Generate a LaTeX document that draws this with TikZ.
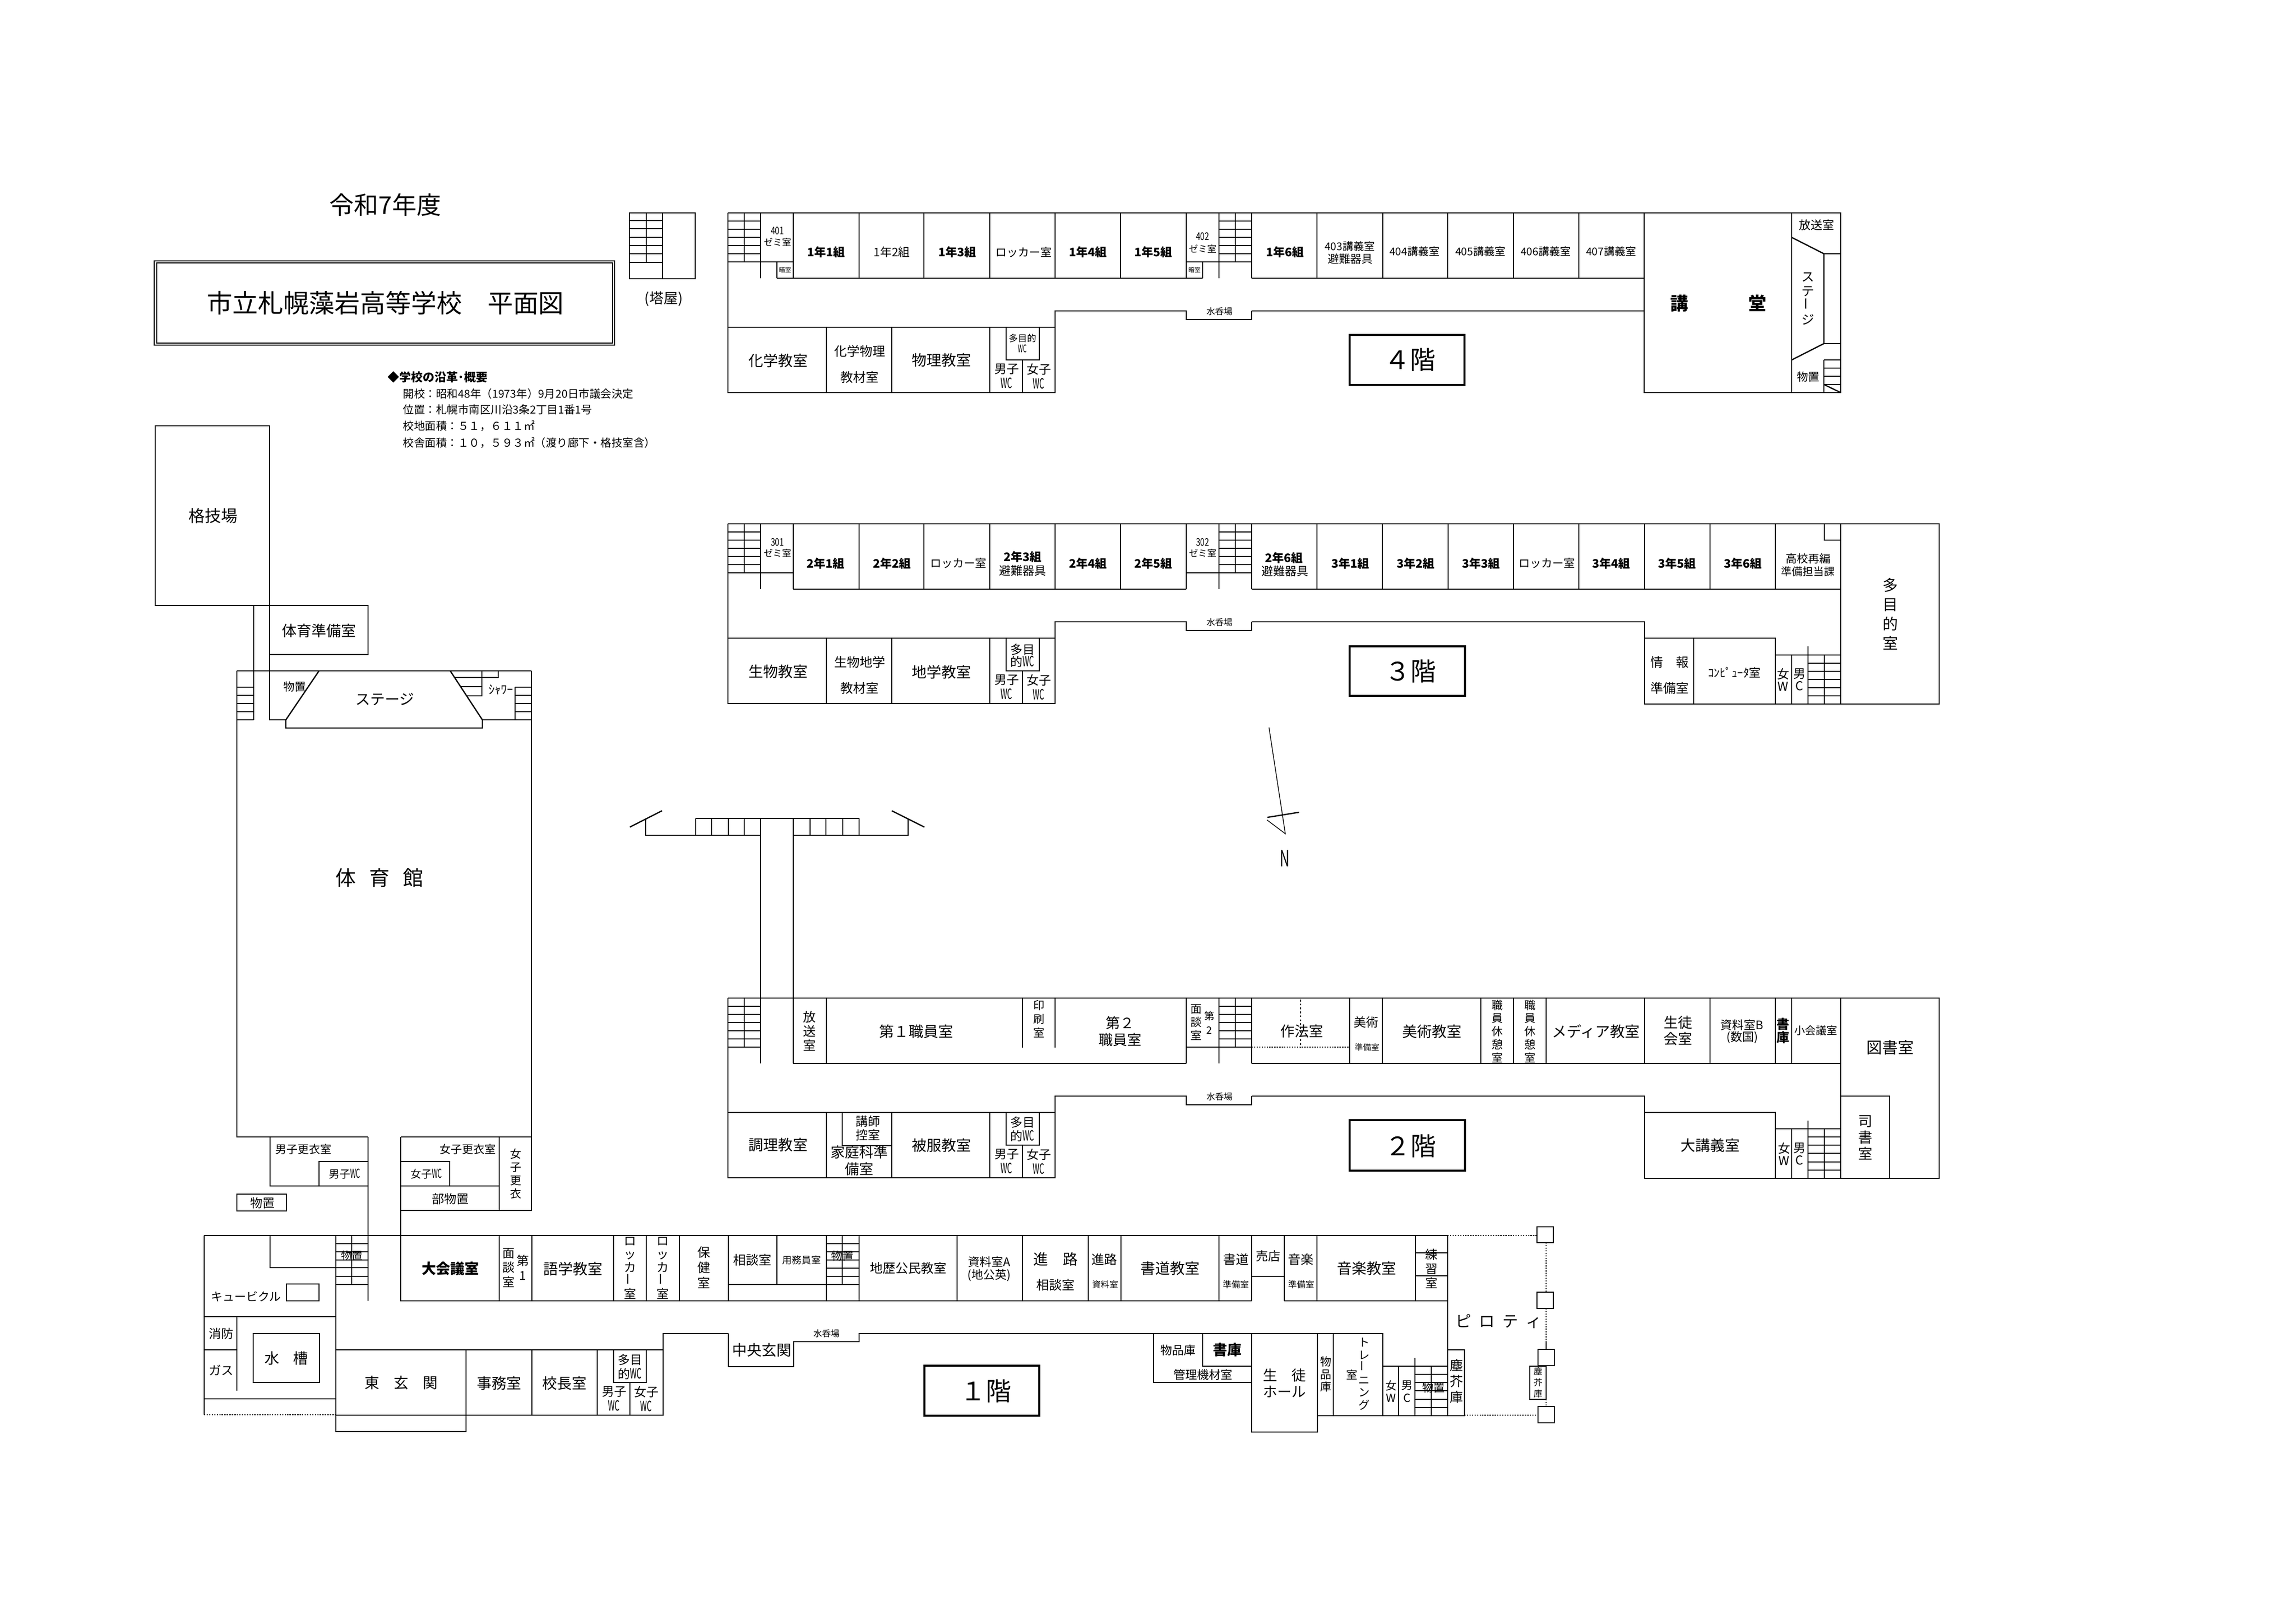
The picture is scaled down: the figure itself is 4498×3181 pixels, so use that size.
\documentclass[tikz,border=0pt]{standalone}
\usepackage{fontspec}
\setmainfont{Noto Sans CJK JP}
\newlength{\pxu}
\setlength{\pxu}{0.01cm}
\newcommand{\fs}[2]{\fontsize{\dimexpr#1\pxu\relax}{\dimexpr#2\pxu\relax}\selectfont}
\newcommand{\gapx}[1]{\hspace{#1\pxu}}
\newcommand{\wc}{\scalebox{.62}[1.15]{WC}}
\newcommand{\tallnum}[1]{\scalebox{.85}[1.15]{#1}}
\newcommand{\vbar}{\rotatebox{90}{ー}}
\newcommand{\treads}[3]{\foreach \y in {#3} \draw[wall] (#1,\y) -- (#2,\y);}
\tikzset{
  wall/.style={line width=0.7pt},
  thinwall/.style={line width=0.4pt},
  floorbox/.style={line width=1.1pt},
  dotwall/.style={line width=0.8pt,dash pattern=on 0.7pt off 0.7pt},
  dotthin/.style={line width=0.5pt,dash pattern=on 1pt off 1.2pt},
  lb/.style={font=\fs{#1}{#1},inner sep=0pt,align=center},
  lbb/.style={font=\fs{#1}{#1}\bfseries,inner sep=0pt,align=center},
  lbv/.style 2 args={font=\fs{#1}{#2},inner sep=0pt,align=center}
}

\begin{document}
\begin{tikzpicture}[x=0.01cm,y=-0.01cm]
\useasboundingbox (0,0) rectangle (4498,3181);

% title and school notes
\node[lb=48] (year) at (755,401) {令和7年度};
\draw[wall] (302,511) rectangle (1204,676);
\draw[wall] (307,515) rectangle (1200,672);
\node[lb=50] (title) at (755,593) {市立札幌藻岩高等学校　平面図};
\node[lbb=23,anchor=west] (noteh) at (759,739) {◆学校の沿革･概要};
\node[lb=21.5,anchor=west] (note1) at (789,771) {開校：昭和48年（1973年）9月20日市議会決定};
\node[lb=21.5,anchor=west] (note2) at (789,802) {位置：札幌市南区川沿3条2丁目1番1号};
\node[lb=21.5,anchor=west] (note3) at (789,834) {校地面積：５１，６１１㎡};
\node[lb=21.5,anchor=west] (note4) at (789,867) {校舎面積：１０，５９３㎡（渡り廊下・格技室含）};

% roof stairs
\draw[wall] (1233,417) rectangle (1362,546);
\draw[wall] (1298,417) -- (1298,546);
\draw[wall] (1266,417) -- (1266,514);
\treads{1233}{1298}{432,448,465,481,497,514}
\node[lb=28] (tower) at (1300,586) {(塔屋)};

% parts shared by the 4th, 3rd and 2nd floor wings
\foreach \fl/\dy in {4/0,3/609,2/1538}{
\begin{scope}[shift={(0,\dy)}]
\draw[wall] (1426,417) -- (1426,769) -- (2067,769) -- (2067,609) -- (2324,609) -- (2324,626) -- (2452,626) -- (2452,609);
\draw[wall] (1426,641) -- (2067,641);
\foreach \x in {1458,2420} \draw[wall] (\x,417) -- (\x,513);
\foreach \x in {1490,2388,2452} \draw[wall] (\x,417) -- (\x,545);
\treads{1426}{1490}{433,449,465,481,497,513}
\treads{2388}{2452}{433,449,465,481,497,513}
\draw[wall] (2324,513) -- (2388,513);
\foreach \x in {1619,1747,1939} \draw[wall] (\x,641) -- (\x,769);
\draw[wall] (1971,641) -- (1971,705) -- (2036,705) -- (2036,641);
\draw[wall] (2003,705) -- (2003,769);
\node[lb=17] (sink\fl) at (2389,610) {水呑場};
\node[lbv={24}{29}] (mwc\fl) at (1972,737) {男子\\\wc};
\node[lbv={24}{29}] (fwc\fl) at (2035,737) {女子\\\wc};
\end{scope}
}

% 4th floor
\draw[wall] (1426,417) -- (3606,417) -- (3606,769) -- (3221,769) -- (3221,417);
\draw[wall] (1522,545) -- (2356,545);
\draw[wall] (2452,545) -- (3221,545);
\draw[wall] (2452,609) -- (3221,609);
\foreach \x in {1554,1683,1810,1939,2067,2195,2324,2580,2709,2836,2965,3093} \draw[wall] (\x,417) -- (\x,545);
\draw[wall] (1490,513) -- (1554,513);
\draw[wall] (1522,513) -- (1522,545);
\draw[wall] (2356,513) -- (2356,545);
\draw[wall] (3510,417) -- (3510,769);
\draw[wall] (3510,465) -- (3573,497) -- (3606,497);
\draw[wall] (3573,497) -- (3573,673) -- (3510,705);
\draw[wall] (3573,673) -- (3606,673);
\draw[wall] (3573,705) -- (3573,769);
\treads{3573}{3606}{705,721,737,753}
\draw[wall] (3573,753) -- (3606,769);
\node[lb=18] (s401) at (1523,452) {\tallnum{401}};
\node[lb=18] (z401) at (1523,474) {ゼミ室};
\node[lb=12] (dk401) at (1538,529) {暗室};
\node[lbb=23] (c11) at (1618,494) {1年1組};
\node[lb=23] (c12) at (1747,494) {1年2組};
\node[lbb=23] (c13) at (1875,494) {1年3組};
\node[lb=22] (lk4) at (2005,494) {ロッカー室};
\node[lbb=23] (c14) at (2131,494) {1年4組};
\node[lbb=23] (c15) at (2259,494) {1年5組};
\node[lb=18] (s402) at (2356,463) {\tallnum{402}};
\node[lb=18] (z402) at (2356,487) {ゼミ室};
\node[lb=12] (dk402) at (2340,529) {暗室};
\node[lbb=23] (c16) at (2517,494) {1年6組};
\node[lb=21] (l403) at (2644,482) {403講義室};
\node[lb=22] (ev4) at (2645,507) {避難器具};
\node[lb=21] (l404) at (2771,492) {404講義室};
\node[lb=21] (l405) at (2900,492) {405講義室};
\node[lb=21] (l406) at (3028,492) {406講義室};
\node[lb=21] (l407) at (3156,492) {407講義室};
\node[lbb=35] (hall) at (3366,594) {講\gapx{118}堂};
\node[lb=23] (bc4) at (3559,441) {放送室};
\node[lbv={25}{28}] (stg4) at (3542,585) {ス\\テ\\\vbar\\ジ};
\node[lb=22] (st4) at (3542,738) {物置};
\node[lb=29] (chem) at (1524,706) {化学教室};
\node[lbv={25}{51}] (chph) at (1684,713) {化学物理\\教材室};
\node[lb=29] (phys) at (1844,706) {物理教室};
\node[lbv={18}{21}] (mwc4b) at (2003,673) {多目的\\\wc};
\draw[floorbox] (2644,656) rectangle (2869,754);
\node[lb=50] (f4) at (2762,705) {４階};

% 3rd floor
\draw[wall] (1426,1026) -- (3799,1026) -- (3799,1379) -- (3222,1379) -- (3222,1218) -- (2452,1218);
\draw[wall] (1554,1154) -- (2324,1154);
\draw[wall] (2452,1154) -- (3606,1154);
\foreach \x in {1554,1683,1810,1939,2067,2195,2324,2580,2708,2837,2965,3093,3222,3350,3478} \draw[wall] (\x,1026) -- (\x,1154);
\draw[wall] (1490,1122) -- (1554,1122);
\draw[wall] (3606,1026) -- (3606,1379);
\draw[wall] (3574,1026) -- (3574,1058) -- (3606,1058);
\draw[wall] (3222,1250) -- (3478,1250) -- (3478,1379);
\draw[wall] (3318,1250) -- (3318,1379);
\draw[wall] (3478,1283) -- (3606,1283);
\draw[wall] (3510,1283) -- (3510,1379);
\draw[wall] (3542,1266) -- (3542,1379);
\draw[wall] (3574,1283) -- (3574,1379);
\treads{3542}{3606}{1299,1315,1331,1347,1363}
\node[lb=18] (s301) at (1523,1062) {\tallnum{301}};
\node[lb=18] (z301) at (1523,1083) {ゼミ室};
\node[lbb=23] (c21) at (1617,1104) {2年1組};
\node[lbb=23] (c22) at (1747,1104) {2年2組};
\node[lb=22] (lk31) at (1877,1103) {ロッカー室};
\node[lbb=23] (c23) at (2003,1091) {2年3組};
\node[lb=23] (ev31) at (2003,1118) {避難器具};
\node[lbb=23] (c24) at (2131,1104) {2年4組};
\node[lbb=23] (c25) at (2259,1104) {2年5組};
\node[lb=18] (s302) at (2356,1062) {\tallnum{302}};
\node[lb=18] (z302) at (2356,1083) {ゼミ室};
\node[lbb=23] (c26) at (2515,1093) {2年6組};
\node[lb=23] (ev32) at (2517,1119) {避難器具};
\node[lbb=23] (c31) at (2645,1104) {3年1組};
\node[lbb=23] (c32) at (2773,1104) {3年2組};
\node[lbb=23] (c33) at (2901,1104) {3年3組};
\node[lb=22] (lk32) at (3030,1103) {ロッカー室};
\node[lbb=23] (c34) at (3156,1104) {3年4組};
\node[lbb=23] (c35) at (3285,1104) {3年5組};
\node[lbb=23] (c36) at (3414,1104) {3年6組};
\node[lb=22] (plan) at (3542,1094) {高校再編};
\node[lb=21] (plan2) at (3542,1119) {準備担当課};
\node[lbv={30}{38}] (multi) at (3703,1203) {多\\目\\的\\室};
\node[lb=29] (bio) at (1524,1316) {生物教室};
\node[lbv={25}{51}] (bige) at (1684,1322) {生物地学\\教材室};
\node[lb=29] (geo) at (1844,1316) {地学教室};
\node[lbv={24}{24}] (mwc3b) at (2003,1284) {多目\\的\wc};
\node[lb=25] (info) at (3271,1297) {情\gapx{25}報};
\node[lb=25] (infop) at (3271,1348) {準備室};
\node[lb=23] (comp) at (3398,1317) {ｺﾝﾋﾟｭｰﾀ室};
\node[lbv={24}{24}] (fw3) at (3493,1331) {女\\W};
\node[lbv={24}{24}] (mc3) at (3525,1331) {男\\C};
\draw[floorbox] (2644,1266) rectangle (2870,1363);
\node[lb=50] (f3) at (2763,1315) {３階};

% 2nd floor
\draw[wall] (1426,1955) -- (3799,1955) -- (3799,2308) -- (3222,2308) -- (3222,2147) -- (2452,2147);
\draw[wall] (1554,2083) -- (2324,2083);
\draw[wall] (2452,2083) -- (3606,2083);
\foreach \x in {1554,1619,2324,2644,2708,2901,2965,3029,3222,3350,3478,3510} \draw[wall] (\x,1955) -- (\x,2083);
\foreach \x in {2003,2067} \draw[wall] (\x,1955) -- (\x,2052);
\draw[dotwall] (2452,2051) -- (2644,2051);
\draw[dotthin] (2548,1958) -- (2548,2051);
\draw[wall] (3606,1955) -- (3606,2308);
\draw[wall] (3222,2179) -- (3478,2179) -- (3478,2308);
\draw[wall] (3478,2211) -- (3606,2211);
\draw[wall] (3510,2211) -- (3510,2308);
\draw[wall] (3542,2195) -- (3542,2308);
\draw[wall] (3574,2211) -- (3574,2308);
\treads{3542}{3606}{2227,2243,2259,2276,2292}
\draw[wall] (3606,2147) -- (3702,2147) -- (3702,2308);
\draw[wall] (1650,2179) -- (1650,2244) -- (1747,2244);
\node[lbv={25}{28}] (bc2) at (1586,2020) {放\\送\\室};
\node[lb=29] (st1) at (1795,2020) {第１職員室};
\node[lbv={22}{27}] (prt) at (2035,1996) {印\\刷\\室};
\node[lbv={28}{33}] (st2) at (2194,2020) {第２\\職員室};
\node[lbv={22}{26}] (mt2) at (2343,2003) {面\\談\\室};
\node[lbv={20}{28}] (mt2n) at (2369,2003) {第\\2};
\node[lb=28] (saho) at (2550,2020) {作法室};
\node[lb=24] (art) at (2676,2002) {美術};
\node[lb=16] (artp) at (2678,2051) {準備室};
\node[lb=29] (artr) at (2805,2020) {美術教室};
\node[lbv={22}{25.7}] (rest1) at (2933,2020) {職\\員\\休\\憩\\室};
\node[lbv={22}{25.7}] (rest2) at (2997,2020) {職\\員\\休\\憩\\室};
\node[lb=29] (media) at (3126,2020) {メディア教室};
\node[lbv={28}{32}] (scl) at (3287,2019) {生徒\\会室};
\node[lb=23] (docb) at (3413,2008) {資料室B};
\node[lb=23] (docb2) at (3413,2032) {(数国)};
\node[lbv={25}{26}] (bk2) at (3493,2019) {\bfseries 書\\\bfseries 庫};
\node[lb=21] (small) at (3557,2019) {小会議室};
\node[lb=31] (lib) at (3703,2052) {図書室};
\node[lb=29] (cook) at (1524,2243) {調理教室};
\node[lbv={24}{27}] (tea) at (1700,2210) {講師\\控室};
\node[lbv={28}{33}] (home) at (1683,2273) {家庭科準\\備室};
\node[lb=29] (sew) at (1844,2243) {被服教室};
\node[lbv={24}{27}] (mwc2b) at (2003,2212) {多目\\的\wc};
\node[lb=29] (lect) at (3350,2243) {大講義室};
\node[lbv={24}{24}] (fw2) at (3495,2260) {女\\W};
\node[lbv={24}{24}] (mc2) at (3525,2260) {男\\C};
\node[lbv={28}{32}] (libr) at (3654,2228) {司\\書\\室};
\draw[floorbox] (2644,2194) rectangle (2870,2293);
\node[lb=50] (f2) at (2763,2245) {２階};

% bridge between the wings and north mark
\draw[wall] (1363,1603) -- (1683,1603);
\draw[wall] (1490,1603) -- (1490,1955);
\draw[wall] (1554,1603) -- (1554,1955);
\draw[wall] (1265,1603) -- (1265,1636) -- (1490,1636);
\draw[wall] (1554,1636) -- (1779,1636) -- (1779,1603);
\foreach \x in {1363,1394,1427,1458,1587,1618,1651,1683} \draw[wall] (\x,1603) -- (\x,1636);
\draw[wall] (1234,1620) -- (1297,1588);
\draw[wall] (1747,1588) -- (1811,1620);
\draw[thinwall] (2486,1425) -- (2518,1633) -- (2482,1606);
\draw[wall] (2483,1601) -- (2545,1591);
\node[lb=44,xscale=.6] (north) at (2517,1681) {N};

% gym and judo hall
\draw[wall] (304,834) rectangle (528,1186);
\draw[wall] (528,1186) -- (721,1186) -- (721,1282) -- (528,1282);
\draw[wall] (497,1186) -- (497,1410);
\draw[wall] (528,1186) -- (528,1410) -- (560,1410);
\draw[wall] (464,1314) -- (1041,1314);
\draw[wall] (464,1314) -- (464,2227) -- (721,2227);
\draw[wall] (1041,1314) -- (1041,2371) -- (785,2371);
\draw[wall] (785,2227) -- (1041,2227);
\treads{464}{497}{1346,1362,1378,1394,1410}
\draw[wall] (625,1314) -- (560,1410) -- (560,1426) -- (945,1426) -- (945,1410) -- (882,1314);
\draw[wall] (945,1410) -- (1041,1410);
\draw[wall] (1009,1346) -- (1009,1410);
\treads{1009}{1041}{1346,1362,1378,1394}
\draw[thinwall] (889,1327) -- (976,1327) -- (976,1314);
\draw[thinwall] (944,1314) -- (944,1363) -- (915,1363);
\draw[thinwall] (902,1345) -- (944,1345);
\node[lb=32] (judo) at (417,1010) {格技場};
\node[lb=29] (gymp) at (625,1235) {体育準備室};
\node[lb=22] (st5) at (577,1345) {物置};
\node[lb=29] (stg5) at (754,1370) {ステージ};
\node[lb=24] (shw) at (981,1351) {ｼｬﾜｰ};
\node[lb=40] (gym) at (743,1719) {体\gapx{26}育\gapx{26}館};

% changing rooms below the gym
\draw[wall] (529,2227) -- (529,2323) -- (721,2323);
\draw[wall] (625,2323) -- (625,2275) -- (721,2275);
\draw[wall] (785,2323) -- (978,2323);
\draw[wall] (785,2275) -- (881,2275) -- (881,2323);
\draw[wall] (978,2227) -- (978,2371);
\draw[wall] (464,2339) rectangle (561,2372);
\node[lb=22] (ml) at (594,2251) {男子更衣室};
\node[lb=21] (mlw) at (675,2299) {男子\wc};
\node[lb=22] (fl) at (916,2251) {女子更衣室};
\node[lb=21] (flw) at (835,2299) {女子\wc};
\node[lb=24] (club) at (882,2348) {部物置};
\node[lbv={22}{26}] (flv) at (1010,2299) {女\\子\\更\\衣};
\node[lb=24] (st6) at (514,2356) {物置};

% 1st floor west end
\draw[wall] (721,2227) -- (721,2548);
\draw[wall] (785,2227) -- (785,2548) -- (2452,2548);
\draw[wall] (2516,2548) -- (2836,2548);
\draw[wall] (400,2420) -- (2836,2420);
\draw[wall] (400,2420) -- (400,2771);
\draw[wall] (658,2420) -- (658,2804) -- (913,2804) -- (913,2644);
\draw[wall] (689,2420) -- (689,2516);
\treads{658}{721}{2436,2452,2468,2483,2500,2516}
\draw[wall] (529,2420) -- (529,2483) -- (658,2483);
\draw[wall] (561,2548) -- (561,2515) -- (625,2515) -- (625,2548) -- cycle;
\draw[wall] (400,2579) -- (658,2579);
\draw[wall] (464,2579) -- (464,2724);
\draw[wall] (400,2644) -- (464,2644);
\draw[wall] (496,2612) rectangle (626,2708);
\draw[wall] (400,2740) -- (658,2740);
\draw[dotwall] (400,2771) -- (658,2771);
\draw[wall] (658,2644) -- (1299,2644) -- (1299,2612) -- (1427,2612);
\draw[wall] (658,2772) -- (1299,2772) -- (1299,2644);
\foreach \x in {1170,1042} \draw[wall] (\x,2644) -- (\x,2772);
\draw[wall] (1202,2644) -- (1202,2708) -- (1266,2708) -- (1266,2644);
\draw[wall] (1234,2708) -- (1234,2772);
\node[lb=21] (st7) at (689,2460) {物置};
\node[lb=23] (cub) at (482,2540) {キュービクル};
\node[lb=24] (fire) at (433,2612) {消防};
\node[lb=24] (gas) at (433,2684) {ガス};
\node[lb=29] (tank) at (561,2660) {水\gapx{28}槽};
\node[lb=29] (ee) at (786,2709) {東\gapx{28}玄\gapx{28}関};
\node[lb=29] (off) at (978,2709) {事務室};
\node[lb=29] (prin) at (1106,2709) {校長室};
\node[lbv={24}{28}] (mwc1) at (1234,2677) {多目\\的\wc};
\node[lbv={24}{29}] (mw1) at (1203,2740) {男子\\\wc};
\node[lbv={24}{29}] (fw1) at (1266,2740) {女子\\\wc};

% 1st floor north row
\foreach \x in {978,1042,1202,1266,1331,1427,1683,1875,2003,2132,2196,2388,2452,2516,2580,2773} \draw[wall] (\x,2420) -- (\x,2548);
\draw[wall] (1427,2516) -- (1683,2516);
\draw[wall] (1522,2420) -- (1522,2516);
\draw[wall] (1619,2420) -- (1619,2548);
\draw[wall] (1650,2420) -- (1650,2516);
\treads{1619}{1683}{2436,2452,2468,2484,2500}
\draw[wall] (2452,2500) -- (2516,2500);
\treads{2773}{2836}{2454,2499}
\node[lbb=28] (conf) at (882,2485) {大会議室};
\node[lbv={24}{28.5}] (mt1) at (996,2483) {面\\談\\室};
\node[lbv={24}{29}] (mt1n) at (1024,2483) {第\\1};
\node[lb=29] (lang) at (1122,2485) {語学教室};
\node[lbv={24}{26}] (lk11) at (1234,2484) {ロ\\ッ\\カ\\\vbar\\室};
\node[lbv={24}{26}] (lk12) at (1298,2484) {ロ\\ッ\\カ\\\vbar\\室};
\node[lbv={25}{30}] (nurse) at (1379,2483) {保\\健\\室};
\node[lb=25] (cns1) at (1474,2468) {相談室};
\node[lb=19] (jan) at (1570,2468) {用務員室};
\node[lb=22] (st8) at (1650,2460) {物置};
\node[lb=25] (hist) at (1779,2484) {地歴公民教室};
\node[lb=23] (doca) at (1938,2472) {資料室A};
\node[lb=23] (doca2) at (1938,2498) {(地公英)};
\node[lb=29] (path) at (2068,2466) {進　路};
\node[lb=25] (path2) at (2068,2517) {相談室};
\node[lb=25] (pd) at (2163,2467) {進路};
\node[lb=17] (pd2) at (2165,2516) {資料室};
\node[lb=29] (calli) at (2292,2484) {書道教室};
\node[lb=25] (cp) at (2421,2467) {書道};
\node[lb=17] (cp2) at (2421,2516) {準備室};
\node[lb=24] (shop) at (2484,2460) {売店};
\node[lb=25] (mp) at (2548,2467) {音楽};
\node[lb=17] (mp2) at (2549,2516) {準備室};
\node[lb=29] (music) at (2677,2484) {音楽教室};
\node[lbv={24}{28}] (prac) at (2804,2485) {練\\習\\室};

% 1st floor south row and pilotis
\draw[wall] (1427,2612) -- (1427,2677) -- (1555,2677) -- (1555,2628) -- (1683,2628) -- (1683,2612) -- (2709,2612) -- (2709,2773);
\draw[wall] (2260,2612) -- (2260,2708) -- (2452,2708);
\draw[wall] (2356,2612) -- (2356,2676) -- (2452,2676);
\draw[wall] (2452,2612) -- (2452,2805) -- (2581,2805) -- (2581,2612);
\draw[wall] (2581,2773) -- (2869,2773) -- (2869,2644) -- (2836,2644);
\draw[wall] (2612,2612) -- (2612,2773);
\draw[wall] (2709,2676) -- (2836,2676);
\draw[wall] (2836,2420) -- (2836,2773);
\draw[wall] (2740,2676) -- (2740,2773);
\draw[wall] (2772,2660) -- (2772,2773);
\draw[wall] (2804,2676) -- (2804,2773);
\treads{2772}{2836}{2692,2708,2724,2741,2757}
\draw[dotwall] (2836,2420) -- (3011,2420);
\draw[dotwall] (2869,2772) -- (3013,2772);
\draw[wall] (3011,2403) rectangle (3043,2434);
\draw[wall] (3011,2531) rectangle (3043,2563);
\draw[wall] (3013,2643) rectangle (3045,2675);
\draw[wall] (3013,2755) rectangle (3045,2787);
\draw[wall] (2997,2676) rectangle (3029,2741);
\draw[dotwall] (3029,2434) -- (3029,2531);
\draw[dotwall] (3029,2563) -- (3029,2627);
\draw[wall] (3029,2627) -- (3029,2643);
\draw[dotwall] (3029,2741) -- (3029,2755);
\node[lb=17] (sink1) at (1619,2612) {水呑場};
\node[lb=29] (ce) at (1492,2645) {中央玄関};
\node[lb=23] (gds) at (2308,2645) {物品庫};
\node[lbb=28] (bk1) at (2404,2644) {書庫};
\node[lb=23] (mech) at (2357,2693) {管理機材室};
\node[lbv={28}{32}] (hall1) at (2516,2709) {生　徒\\ホール};
\node[lbv={22}{24.5}] (gds2) at (2597,2692) {物\\品\\庫};
\node[lbv={22}{24.5}] (trn) at (2672,2691) {ト\\レ\\\vbar\\ニ\\ン\\グ};
\node[lb=22] (trn2) at (2648,2693) {室};
\node[lbv={22}{24}] (fw0) at (2725,2725) {女\\W};
\node[lbv={22}{25}] (mc0) at (2756,2725) {男\\C};
\node[lb=22] (st9) at (2808,2718) {物置};
\node[lbv={26}{31}] (dust) at (2853,2706) {塵\\芥\\庫};
\node[lbv={17}{22}] (dust2) at (3013,2708) {塵\\芥\\庫};
\node[lb=31] (pil) at (2936,2588) {ピ\gapx{15}ロ\gapx{15}テ\gapx{15}ィ};
\draw[floorbox] (1811,2675) rectangle (2036,2773);
\node[lb=50] (f1) at (1931,2725) {１階};

\end{tikzpicture}
\end{document}
